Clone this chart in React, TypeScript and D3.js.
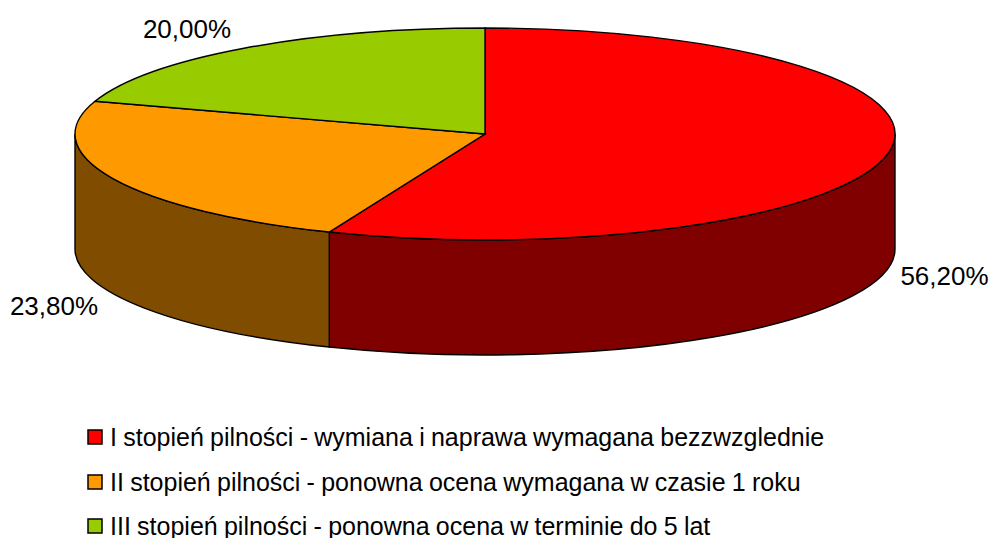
import * as d3 from 'd3'

const labels = [
  'I stopień pilności - wymiana i naprawa wymagana bezzwzglednie',
  'II stopień pilności - ponowna ocena wymagana w czasie 1 roku',
  'III stopień pilności - ponowna ocena w terminie do 5 lat',
]
const values = [56.2, 23.8, 20.0]
const valueLabels = ['56,20%', '23,80%', '20,00%']
const colors = ['#ff0000', '#ff9900', '#99cc00']
const sideColors = ['#800000', '#804d00', '#4d6600']

const CX = 485
const CY = 134
const RX = 410
const RY = 106
const DEPTH = 115
const FONT = 'Arial, "Liberation Sans", sans-serif'

const labelPos = [
  { x: 944.5, y: 285 },
  { x: 54, y: 315 },
  { x: 187, y: 38 },
]
const legendBaseline = [446, 491, 535]

// angle measured clockwise from 12 o'clock
const px = (a: number) => CX + RX * Math.sin(a)
const py = (a: number) => CY - RY * Math.cos(a)

function topPath(a0: number, a1: number) {
  const large = a1 - a0 > Math.PI ? 1 : 0
  return `M${CX},${CY}L${px(a0)},${py(a0)}A${RX},${RY} 0 ${large} 1 ${px(a1)},${py(a1)}Z`
}

// wall only exists on the front half of the ellipse
function sidePath(a0: number, a1: number) {
  const s = Math.max(a0, Math.PI / 2)
  const e = Math.min(a1, (3 * Math.PI) / 2)
  if (e <= s) return null
  return `M${px(s)},${py(s)}A${RX},${RY} 0 0 1 ${px(e)},${py(e)}L${px(e)},${py(e) + DEPTH}A${RX},${RY} 0 0 0 ${px(s)},${py(s) + DEPTH}Z`
}

export default function App() {
  const arcs = d3.pie<number>().sort(null)(values)
  return (
    <svg width={990} height={538} style={{ position: 'absolute', left: 0, top: 0, background: '#fff' }}>
      {arcs.map((d, i) => {
        const p = sidePath(d.startAngle, d.endAngle)
        return p && <path key={i} d={p} fill={sideColors[i]} stroke="#000" strokeWidth={1.4} />
      })}
      {arcs.map((d, i) => (
        <path key={i} d={topPath(d.startAngle, d.endAngle)} fill={colors[i]} stroke="#000" strokeWidth={1.4} />
      ))}
      {valueLabels.map((t, i) => (
        <text key={i} x={labelPos[i].x} y={labelPos[i].y} textAnchor="middle" fontFamily={FONT} fontSize={26} fill="#000">{t}</text>
      ))}
      {labels.map((t, i) => (
        <g key={i}>
          <rect x={88} y={legendBaseline[i] - 16} width={14} height={14} fill={colors[i]} stroke="#000" strokeWidth={1.5} />
          <text x={110} y={legendBaseline[i]} fontFamily={FONT} fontSize={25} wordSpacing={-0.7} fill="#000">{t}</text>
        </g>
      ))}
    </svg>
  )
}
